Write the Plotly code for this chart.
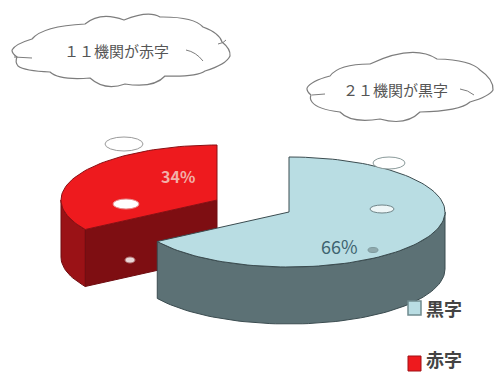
import math
import plotly.graph_objects as go

# Share of institutions by result
labels = ["黒字", "赤字"]
shares = [66, 34]
top_colors = ["#b9dde3", "#ee1a1e"]
wall_colors = ["#5c7175", "#9a1216"]
inner_wall_colors = ["#5c7175", "#7e0e12"]
callouts = ["１１機関が赤字", "２１機関が黒字"]

W, H = 497, 373
RX, RY, DEPTH = 156, 55, 57
EDGE = "#3b4c50"
FONT = "Noto Sans CJK JP"

red_span = 360 * shares[1] / sum(shares)
BLUE_C = (289, 212)
RED_C = (217, 200)


def rim(c, deg, drop=0):
    a = math.radians(deg)
    return c[0] + RX * math.cos(a), c[1] - RY * math.sin(a) + drop


def arc(c, a0, a1, drop=0):
    n = max(int(abs(a1 - a0) / 2), 2)
    return [rim(c, a0 + (a1 - a0) * i / n, drop) for i in range(n + 1)]


def poly(pts, fill, line=EDGE, width=1):
    xs, ys = zip(*pts)
    return go.Scatter(
        x=list(xs) + [xs[0]], y=list(ys) + [ys[0]], mode="lines", fill="toself",
        fillcolor=fill, line=dict(color=line, width=width),
        hoverinfo="skip", showlegend=False,
    )


fig = go.Figure()

# Detached red wedge: walls first, then the top face
a_start, a_end = 90, 90 + red_span
corner = rim(RED_C, a_end)
fig.add_trace(poly([RED_C, corner, (corner[0], corner[1] + DEPTH), (RED_C[0], RED_C[1] + DEPTH)],
                   inner_wall_colors[1], line="#6e0c10"))
fig.add_trace(poly(arc(RED_C, 180, a_end) + arc(RED_C, a_end, 180, DEPTH), wall_colors[1], line="#6e0c10"))
fig.add_trace(poly([RED_C] + arc(RED_C, a_start, a_end), top_colors[1], line="#8a1014"))

# Larger blue wedge sits in front of it
fig.add_trace(poly(arc(BLUE_C, a_end, 360) + arc(BLUE_C, 360, a_end, DEPTH), wall_colors[0]))
fig.add_trace(poly([BLUE_C] + arc(BLUE_C, a_end, 450), top_colors[0]))


def cloud_path(cusps, bulge):
    cx = sum(p[0] for p in cusps) / len(cusps)
    cy = sum(p[1] for p in cusps) / len(cusps)
    d = f"M{cusps[0][0]},{cusps[0][1]}"
    for i, p in enumerate(cusps):
        q = cusps[(i + 1) % len(cusps)]
        mx, my = (p[0] + q[0]) / 2, (p[1] + q[1]) / 2
        nx, ny = mx - cx, my - cy
        size = math.hypot(nx, ny) or 1
        span = math.hypot(q[0] - p[0], q[1] - p[1])
        k = bulge * span
        d += f" Q{mx + nx / size * k:.1f},{my + ny / size * k:.1f} {q[0]},{q[1]}"
    return d


cloud_a = [(12, 50), (32, 39), (85, 24), (124, 20), (160, 17), (203, 27), (222, 42), (230, 56),
           (205, 71), (165, 76), (125, 84), (90, 78), (50, 72), (18, 66), (17, 57)]
cloud_b = [(307, 88), (330, 76), (370, 64), (437, 59), (480, 70), (493, 90),
           (470, 102), (420, 112), (380, 119), (340, 112), (312, 102), (311, 95)]

shapes = []
for cusps in (cloud_a, cloud_b):
    shapes.append(dict(type="path", path=cloud_path(cusps, 0.3), fillcolor="white",
                       line=dict(color="#7d7d7d", width=1.2)))
for tick in ("M186,50 Q196,52 203,61", "M218,44 Q224,43 226,40", "M14,57 L32,58",
             "M460,89 Q468,90 474,95", "M312,95 L325,94"):
    shapes.append(dict(type="path", path=tick, line=dict(color="#7d7d7d", width=1)))

# Leftover label ovals on and above the wedges
ovals = [
    (124, 144, 19, 7, "white", "#9a9a9a"),
    (126, 204, 13, 5, "white", "#e88a8a"),
    (130, 260, 5, 3, "#e8d8d8", "#b07070"),
    (389, 163, 16, 6, "white", "#8a9a9a"),
    (382, 209, 12, 4, "#eef6f7", "#6f8488"),
    (373, 250, 5, 2.5, "#8fa9ad", "#7f9a9e"),
]
for x, y, rx, ry, fill, line in ovals:
    shapes.append(dict(type="circle", x0=x - rx, x1=x + rx, y0=y - ry, y1=y + ry,
                       fillcolor=fill, line=dict(color=line, width=1)))

# Legend swatches
shapes.append(dict(type="rect", x0=408, x1=421, y0=301, y1=315, fillcolor=top_colors[0],
                   line=dict(color="#6f8a8e", width=1.5)))
shapes.append(dict(type="rect", x0=408, x1=421, y0=356, y1=371, fillcolor=top_colors[1],
                   line=dict(color="#a01014", width=1)))


def note(x, y, text, size, color):
    return dict(x=x, y=y, text=text, showarrow=False, xanchor="center", yanchor="middle",
                font=dict(family=FONT, size=size, color=color))


annotations = [
    note(116, 50, callouts[0], 15, "#555555"),
    note(395, 89, callouts[1], 15, "#555555"),
    note(178, 176, f"<b>{shares[1]}%</b>", 16, "#f2b0a8"),
    note(339, 246, f"{shares[0]}%", 18, "#3f6470"),
    note(444, 308, f"<b>{labels[0]}</b>", 18, "#444444"),
    note(444, 359, f"<b>{labels[1]}</b>", 18, "#444444"),
]

fig.update_layout(
    width=W, height=H, autosize=False, margin=dict(l=0, r=0, t=0, b=0),
    paper_bgcolor="white", plot_bgcolor="white", showlegend=False,
    xaxis=dict(range=[0, W], visible=False, fixedrange=True),
    yaxis=dict(range=[H, 0], visible=False, fixedrange=True),
    shapes=shapes, annotations=annotations,
)
fig.write_html("out.html", config=dict(displayModeBar=False))
